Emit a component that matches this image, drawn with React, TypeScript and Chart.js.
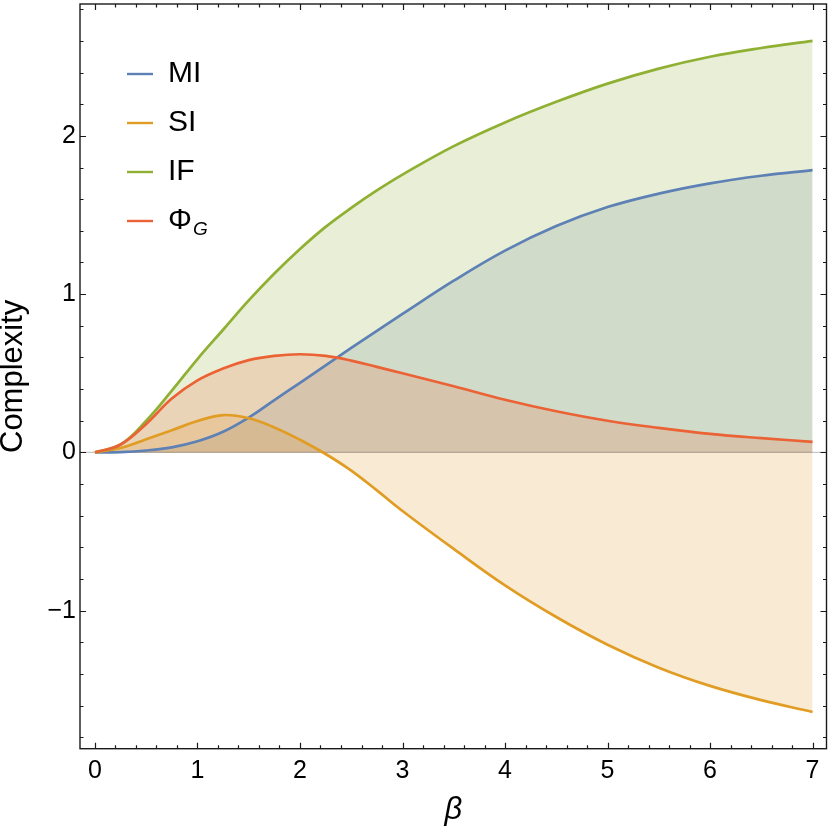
import React, { useEffect, useRef } from "react";
import { Chart, registerables } from "chart.js";

Chart.register(...registerables);

// ---- data ----
const betas = [0, 0.25, 0.5, 0.75, 1, 1.25, 1.5, 1.75, 2, 2.25, 2.5, 2.75, 3, 3.5, 4, 4.5, 5, 5.5, 6, 6.5, 7];
const miValues = [0, 0.002, 0.012, 0.032, 0.07, 0.13, 0.22, 0.33, 0.44, 0.55, 0.66, 0.768, 0.875, 1.085, 1.275, 1.43, 1.55, 1.635, 1.7, 1.748, 1.783];
const siValues = [0, 0.028, 0.083, 0.14, 0.198, 0.236, 0.216, 0.158, 0.08, -0.01, -0.115, -0.24, -0.37, -0.61, -0.84, -1.04, -1.215, -1.36, -1.475, -1.565, -1.64];
const ifValues = [0, 0.05, 0.2, 0.39, 0.59, 0.775, 0.96, 1.13, 1.285, 1.425, 1.545, 1.655, 1.755, 1.935, 2.085, 2.215, 2.33, 2.425, 2.5, 2.555, 2.6];
const phiValues = [0, 0.05, 0.18, 0.34, 0.455, 0.53, 0.583, 0.61, 0.62, 0.61, 0.58, 0.54, 0.5, 0.418, 0.333, 0.26, 0.2, 0.155, 0.117, 0.09, 0.067];

const seriesLabels = ["MI", "SI", "IF", "ΦG"];
const xTickValues = [0, 1, 2, 3, 4, 5, 6, 7];
const yTickValues = [-1, 0, 1, 2];
const minorStep = 0.2;

const X_MIN = -0.146;
const X_MAX = 7.136;
const Y_MIN = -1.872;
const Y_MAX = 2.833;

const FONT = "'Liberation Sans', Arial, Helvetica, sans-serif";
const COLORS = ["#5E81B5", "#E19C24", "#8FB032", "#EB6235"];

function rgba(hex: string, a: number) {
  const n = parseInt(hex.slice(1), 16);
  return `rgba(${(n >> 16) & 255},${(n >> 8) & 255},${n & 255},${a})`;
}

function pts(ys: number[]) {
  return betas.map((b, i) => ({ x: b, y: ys[i] }));
}

const zeroPad = (s: any) => {
  s.paddingTop = 0;
  s.paddingBottom = 0;
  s.paddingLeft = 0;
  s.paddingRight = 0;
};

const framePlugin = {
  id: "framePlugin",
  beforeDatasetsDraw(chart: any) {
    const { ctx, chartArea } = chart;
    const y = chart.scales.y;
    const py = y.getPixelForValue(0);
    ctx.save();
    ctx.strokeStyle = "rgba(0,0,0,0.22)";
    ctx.lineWidth = 1.2;
    ctx.beginPath();
    ctx.moveTo(chartArea.left, py);
    ctx.lineTo(chartArea.right, py);
    ctx.stroke();
    ctx.restore();
  },
  afterDraw(chart: any) {
    const { ctx, chartArea } = chart;
    const { left, right, top, bottom } = chartArea;
    const xs = chart.scales.x;
    const ys = chart.scales.y;
    ctx.save();
    ctx.strokeStyle = "#1a1a1a";
    ctx.lineWidth = 1.4;
    ctx.strokeRect(left, top, right - left, bottom - top);
    ctx.lineWidth = 1.2;
    ctx.beginPath();
    const xFirst = Math.ceil(X_MIN / minorStep);
    const xLast = Math.floor(X_MAX / minorStep);
    for (let i = xFirst; i <= xLast; i++) {
      const v = i * minorStep;
      const major = xTickValues.some((t) => Math.abs(t - v) < 1e-6);
      const len = major ? 6 : 3.5;
      const px = Math.round(xs.getPixelForValue(v)) + 0.5;
      ctx.moveTo(px, bottom);
      ctx.lineTo(px, bottom - len);
      ctx.moveTo(px, top);
      ctx.lineTo(px, top + len);
    }
    const yFirst = Math.ceil(Y_MIN / minorStep);
    const yLast = Math.floor(Y_MAX / minorStep);
    for (let i = yFirst; i <= yLast; i++) {
      const v = i * minorStep;
      const major = yTickValues.some((t) => Math.abs(t - v) < 1e-6);
      const len = major ? 6 : 3.5;
      const py = Math.round(ys.getPixelForValue(v)) + 0.5;
      ctx.moveTo(left, py);
      ctx.lineTo(left + len, py);
      ctx.moveTo(right, py);
      ctx.lineTo(right - len, py);
    }
    ctx.stroke();

    // legend
    const rowY = [74, 123, 172, 221];
    ctx.textBaseline = "middle";
    ctx.textAlign = "left";
    for (let i = 0; i < 4; i++) {
      ctx.strokeStyle = COLORS[i];
      ctx.lineWidth = 2.4;
      ctx.beginPath();
      ctx.moveTo(127, rowY[i]);
      ctx.lineTo(153, rowY[i]);
      ctx.stroke();
      ctx.fillStyle = "#000";
      ctx.font = `30px ${FONT}`;
      const label = seriesLabels[i];
      if (label === "ΦG") {
        ctx.fillText("Φ", 168, rowY[i]);
        const w = ctx.measureText("Φ").width;
        ctx.font = `italic 19px ${FONT}`;
        ctx.fillText("G", 168 + w + 1, rowY[i] + 9);
      } else {
        ctx.fillText(label, 168, rowY[i]);
      }
    }
    ctx.restore();
  },
};

export default function App() {
  const ref = useRef<HTMLCanvasElement | null>(null);
  useEffect(() => {
    if (!ref.current) return;
    const datasets = [miValues, siValues, ifValues, phiValues].map((vals, i) => ({
      label: seriesLabels[i],
      data: pts(vals),
      borderColor: COLORS[i],
      backgroundColor: rgba(COLORS[i], 0.2),
      borderWidth: 2.7,
      fill: "origin",
      pointRadius: 0,
      pointHoverRadius: 0,
      tension: 0.4,
      order: 4 - i,
    }));
    const chart = new Chart(ref.current, {
      type: "line",
      data: { datasets },
      options: {
        animation: false,
        responsive: false,
        devicePixelRatio: 1,
        layout: { autoPadding: false, padding: { top: 4, right: 4.5, left: 0, bottom: 0 } },
        plugins: {
          legend: { display: false },
          tooltip: { enabled: false },
          filler: { drawTime: "beforeDatasetsDraw" },
        } as any,
        scales: {
          x: {
            type: "linear",
            min: X_MIN,
            max: X_MAX,
            afterBuildTicks: (s: any) => {
              s.ticks = xTickValues.map((v) => ({ value: v }));
            },
            afterFit: (s: any) => {
              s.height = 84.3;
              zeroPad(s);
            },
            grid: { display: false, drawTicks: false },
            border: { display: false },
            ticks: {
              color: "#000",
              padding: 7.6,
              maxRotation: 0,
              autoSkip: false,
              font: { family: FONT, size: 25 },
              callback: (v: any) => String(v),
            },
            title: {
              display: true,
              text: "β",
              color: "#000",
              font: { family: FONT, size: 31, style: "italic", lineHeight: 1 },
              padding: { top: 0, bottom: 7 },
            },
          },
          y: {
            type: "linear",
            min: Y_MIN,
            max: Y_MAX,
            afterBuildTicks: (s: any) => {
              s.ticks = yTickValues.map((v) => ({ value: v }));
            },
            afterFit: (s: any) => {
              s.width = 80;
              zeroPad(s);
            },
            grid: { display: false, drawTicks: false },
            border: { display: false },
            ticks: {
              color: "#000",
              padding: 4,
              autoSkip: false,
              font: { family: FONT, size: 25 },
              callback: (v: any) => (v < 0 ? "−" + Math.abs(v) : String(v)),
            },
            title: {
              display: true,
              text: "Complexity",
              color: "#000",
              font: { family: FONT, size: 31, lineHeight: 0.86 },
              padding: { top: 0, bottom: 0 },
            },
          },
        },
      },
      plugins: [framePlugin],
    });
    return () => chart.destroy();
  }, []);
  return (
    <div style={{ position: "fixed", left: 0, top: 0, width: 831, height: 833, background: "#fff" }}>
      <canvas ref={ref} width={831} height={833} />
    </div>
  );
}
